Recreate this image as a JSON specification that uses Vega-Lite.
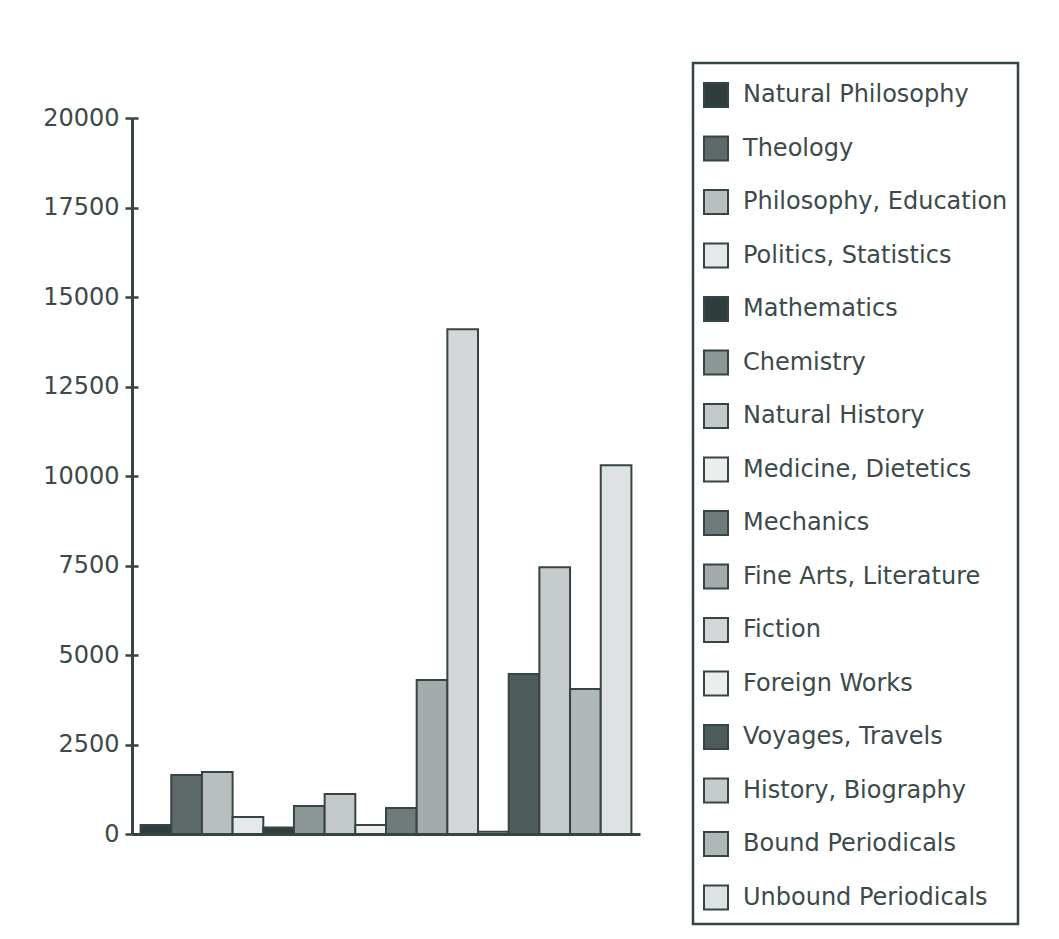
{
  "$schema": "https://vega.github.io/schema/vega-lite/v6.json",
  "autosize": {"type": "none"},
  "width": 508,
  "height": 716,
  "padding": {"left": 132, "top": 118, "right": 419, "bottom": 105},
  "background": "#ffffff",
  "data": {
    "values": [
      {"category": "Natural Philosophy", "books": 250},
      {"category": "Theology", "books": 1650},
      {"category": "Philosophy, Education", "books": 1730},
      {"category": "Politics,  Statistics", "books": 475},
      {"category": "Mathematics", "books": 180},
      {"category": "Chemistry", "books": 780},
      {"category": "Natural  History", "books": 1120},
      {"category": "Medicine,  Dietetics", "books": 250},
      {"category": "Mechanics", "books": 725},
      {"category": "Fine  Arts,  Literature", "books": 4300},
      {"category": "Fiction", "books": 14100},
      {"category": "Foreign  Works", "books": 60},
      {"category": "Voyages,  Travels", "books": 4470},
      {"category": "History,  Biography", "books": 7450},
      {"category": "Bound  Periodicals", "books": 4050},
      {"category": "Unbound  Periodicals", "books": 10300}
    ]
  },
  "encoding": {
    "x": {
      "field": "category",
      "type": "nominal",
      "sort": null,
      "scale": {"paddingInner": 0, "paddingOuter": 0.28},
      "axis": {
        "title": null,
        "labels": false,
        "ticks": false,
        "domainColor": "#354444",
        "domainWidth": 3
      }
    }
  },
  "layer": [
    {
      "mark": {"type": "bar", "stroke": "#354444", "strokeWidth": 2, "opacity": 1},
      "encoding": {
        "y": {
          "field": "books",
          "type": "quantitative",
          "scale": {"domain": [0, 20000], "nice": false},
          "axis": {
            "orient": "left",
            "title": null,
            "grid": false,
            "values": [0, 2500, 5000, 7500, 10000, 12500, 15000, 17500, 20000],
            "format": "d",
            "domainColor": "#354444",
            "domainWidth": 3,
            "tickColor": "#354444",
            "tickWidth": 2.5,
            "tickSize": 7,
            "labelFont": "DejaVu Sans",
            "labelFontSize": 24,
            "labelColor": "#3b4a4a",
            "labelPadding": 6
          }
        },
        "color": {
          "field": "category",
          "type": "nominal",
          "scale": {
            "domain": [
              "Natural Philosophy", "Theology", "Philosophy, Education", "Politics,  Statistics",
              "Mathematics", "Chemistry", "Natural  History", "Medicine,  Dietetics",
              "Mechanics", "Fine  Arts,  Literature", "Fiction", "Foreign  Works",
              "Voyages,  Travels", "History,  Biography", "Bound  Periodicals", "Unbound  Periodicals"
            ],
            "range": [
              "#2f3d3d", "#5d6a69", "#b9bfbe", "#e6e9e9",
              "#2f3d3d", "#8c9796", "#c3c8c8", "#eceeee",
              "#6f7b7b", "#a4abab", "#d3d7d7", "#eceeee",
              "#4d5b5b", "#c6cbcb", "#b0b7b7", "#dfe2e2"
            ]
          },
          "legend": {
            "orient": "none",
            "legendX": 561,
            "legendY": -55,
            "title": " ",
            "titleFontSize": 1,
            "titlePadding": 8,
            "symbolType": "square",
            "symbolSize": 576,
            "symbolStrokeColor": "#354444",
            "symbolStrokeWidth": 2,
            "symbolOpacity": 1,
            "labelFont": "DejaVu Sans",
            "labelFontSize": 24,
            "labelColor": "#3b4a4a",
            "labelOffset": 14,
            "labelLimit": 400,
            "rowPadding": 21.5,
            "padding": 10,
            "strokeColor": "#354444",
            "fillColor": "#ffffff"
          }
        }
      }
    },
    {
      "mark": {"type": "bar", "opacity": 0},
      "encoding": {
        "y": {
          "field": "books",
          "type": "quantitative",
          "scale": {"domain": [0, 20000], "nice": false},
          "axis": {
            "orient": "left",
            "title": null,
            "grid": false,
            "labels": false,
            "domain": false,
            "values": [0, 2500, 5000, 7500, 10000, 12500, 15000, 17500, 20000],
            "tickColor": "#354444",
            "tickWidth": 2.5,
            "tickSize": -6
          }
        }
      }
    }
  ],
  "resolve": {"scale": {"y": "independent"}, "axis": {"y": "independent"}},
  "config": {"view": {"stroke": null}, "legend": {"strokeWidth": 2.5}}
}
